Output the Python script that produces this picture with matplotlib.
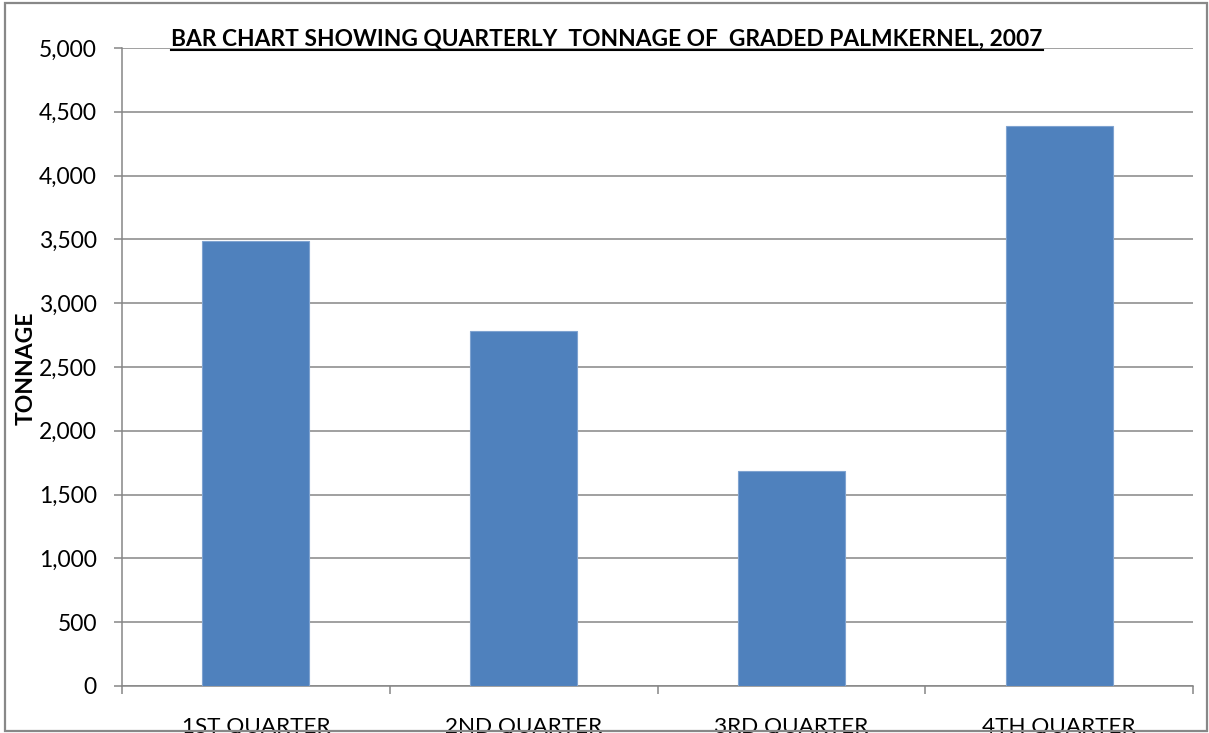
import matplotlib
matplotlib.use("Agg")
import matplotlib.pyplot as plt
from matplotlib.patches import Rectangle
from matplotlib.lines import Line2D

categories = ["1ST QUARTER", "2ND QUARTER", "3RD QUARTER", "4TH QUARTER"]
tonnage = [3485, 2780, 1683, 4385]
yticks = [0, 500, 1000, 1500, 2000, 2500, 3000, 3500, 4000, 4500, 5000]
title = "BAR CHART SHOWING QUARTERLY  TONNAGE OF  GRADED PALMKERNEL, 2007"

plt.rcParams['font.family'] = ['Lato', 'DejaVu Sans']
W, H = 1209, 733
fig = plt.figure(figsize=(W/100, H/100), dpi=100)
ax = fig.add_axes([122/W, 1-686/H, (1193-122)/W, (686-48)/H])

grid_c = "#868686"
x = list(range(len(categories)))
ax.bar(x, tonnage, width=0.4, color="#4F81BD", edgecolor="#7FA3D0", linewidth=0.8, zorder=3)
ax.set_xlim(-0.5, 3.5)
ax.set_ylim(0, 5000)
ax.set_yticks(yticks)
ax.set_yticklabels([f"{v:,}" for v in yticks])
ax.yaxis.grid(True, color=grid_c, linewidth=1.1, zorder=0)
ax.set_axisbelow(True)
for s in ["top", "right"]:
    ax.spines[s].set_visible(False)
for s in ["left", "bottom"]:
    ax.spines[s].set_color(grid_c)
    ax.spines[s].set_linewidth(1.1)

ax.set_xticks([-0.5, 0.5, 1.5, 2.5, 3.5])
ax.set_xticklabels([])
ax.set_xticks(x, minor=True)
ax.set_xticklabels(categories, minor=True)
ax.tick_params(axis="x", which="major", length=6, width=1.1, color=grid_c, direction="out")
ax.tick_params(axis="x", which="minor", length=0, pad=22.5, labelsize=16.2, labelcolor="black")
ax.tick_params(axis="y", length=6, width=1.1, color=grid_c, pad=12, labelsize=16.5, labelcolor="black")

fig.text(26/W, 1-368/H, "TONNAGE", rotation=90, fontsize=16.5, fontweight="bold",
         ha="center", va="center")

t = fig.text(607/W, 1-39/H, title, fontsize=16.4, fontweight="bold", ha="center", va="center")
fig.canvas.draw()
bb = t.get_window_extent()
fig.add_artist(Line2D([bb.x0/W, bb.x1/W], [(bb.y0 - 0.5)/H, (bb.y0 - 0.5)/H],
                      transform=fig.transFigure, color="black", linewidth=1.5, zorder=20))

fig.add_artist(Rectangle((5/W, 2/H), (1207-5)/W, (730-2)/H, transform=fig.transFigure,
                         fill=False, edgecolor="#888888", linewidth=1.6, zorder=30))

fig.savefig("out.png", dpi=100)
